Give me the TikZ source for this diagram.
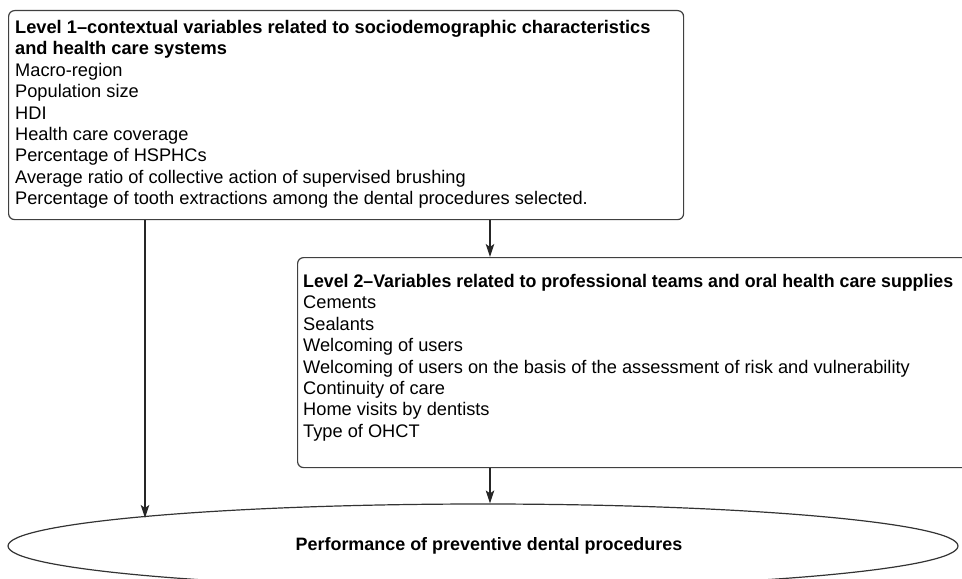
\documentclass[tikz,border=0pt]{standalone}
\usepackage{fontspec}
\setmainfont{Liberation Sans}
\usetikzlibrary{arrows.meta,shapes.geometric}
\begin{document}
\begin{tikzpicture}[x=1bp,y=-1bp,
  box/.style={draw=black!75, line width=1.2bp, rounded corners=6bp, inner sep=0, anchor=north west},
  txt/.style={anchor=north west, align=left, inner sep=0, font=\fontsize{18.3}{21.5}\selectfont},
  arr/.style={draw=black!85, line width=1.2bp, -{Stealth[length=13bp,width=8.5bp,inset=3bp]}}]
\useasboundingbox (0,0) rectangle (962,579);
\clip (0,0) rectangle (962,579);
\node[box, minimum width=675bp, minimum height=209bp] (b1) at (8,10) {};
\node[txt] (t1) at (15,20) {\textbf{Level 1–contextual variables related to sociodemographic characteristics}\\
\textbf{and health care systems}\\
Macro-region\\
Population size\\
HDI\\
Health care coverage\\
Percentage of HSPHCs\\
Average ratio of collective action of supervised brushing\\
Percentage of tooth extractions among the dental procedures selected.};
\node[box, minimum width=690bp, minimum height=210bp] (b2) at (297,257) {};
\node[txt] (t2) at (303,274) {\scalebox{0.975}[1]{\textbf{Level 2–Variables related to professional teams and oral health care supplies}}\\
Cements\\
Sealants\\
Welcoming of users\\
Welcoming of users on the basis of the assessment of risk and vulnerability\\
Continuity of care\\
Home visits by dentists\\
Type of OHCT};
\node[draw=black!80, line width=1.2bp, ellipse, minimum width=950bp, minimum height=84bp, inner sep=0] (ell) at (483,546) {};
\node[font=\bfseries\fontsize{18}{20}\selectfont, inner sep=0] (lab) at (489,546) {Performance of preventive dental procedures};
\coordinate (p1) at (145,518);
\coordinate (m2) at ([xshift=193bp]b2.north west);
\coordinate (m3) at ([xshift=193bp]b2.south west);
\draw[arr] (b1.south -| p1) -- (p1);
\draw[arr] (b1.south -| m2) -- (m2);
\draw[arr] (m3) -- (ell.north -| m3);
\end{tikzpicture}
\end{document}
